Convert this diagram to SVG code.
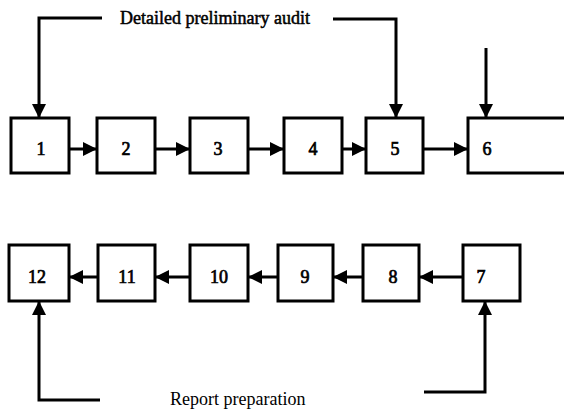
<svg xmlns="http://www.w3.org/2000/svg" width="564" height="411" viewBox="0 0 564 411">
<style>
.box{fill:#fff;stroke:#000;stroke-width:3}
.num{font-family:"Liberation Serif","Times New Roman",serif;font-size:18px;text-anchor:middle;stroke:#000;stroke-width:0.7}
.lbl{font-family:"Liberation Serif","Times New Roman",serif;font-size:18px}
.c{fill:none;stroke:#000;stroke-width:3;marker-end:url(#ah)}
</style>
<defs>
<marker id="ah" markerUnits="userSpaceOnUse" markerWidth="14" markerHeight="14" viewBox="0 0 14 14" refX="14" refY="7" orient="auto">
<path d="M0,0 L14,7 L0,14 z" fill="#000"/>
</marker>
</defs>
<rect width="564" height="411" fill="#fff"/>
<g id="connectors">
<path class="c" d="M102,18 H39 V118"/>
<path class="c" d="M333,19 H396 V118"/>
<path class="c" d="M486,48 V118"/>
<path class="c" d="M69,149 H97"/>
<path class="c" d="M155,149 H190"/>
<path class="c" d="M248,149 H284"/>
<path class="c" d="M342,149 H366"/>
<path class="c" d="M423,149 H468"/>
<path class="c" d="M463,277 H419"/>
<path class="c" d="M363,277 H333"/>
<path class="c" d="M278,277 H248"/>
<path class="c" d="M190,277 H155"/>
<path class="c" d="M98,277 H69"/>
<path class="c" d="M424,392 H485 V301"/>
<path class="c" d="M100,400 H39 V301"/>
</g>
<g id="n1"><rect class="box" x="11" y="118" width="58" height="55"/><text class="num" x="41" y="155">1</text></g>
<g id="n2"><rect class="box" x="97" y="118" width="58" height="55"/><text class="num" x="126" y="155">2</text></g>
<g id="n3"><rect class="box" x="190" y="118" width="58" height="55"/><text class="num" x="218" y="155">3</text></g>
<g id="n4"><rect class="box" x="284" y="118" width="58" height="55"/><text class="num" x="313" y="155">4</text></g>
<g id="n5"><rect class="box" x="366" y="118" width="57" height="55"/><text class="num" x="395" y="155">5</text></g>
<g id="n6"><rect class="box" x="468" y="118" width="100" height="55"/><text class="num" x="487" y="155">6</text></g>
<g id="n7"><rect class="box" x="463" y="245" width="57" height="56"/><text class="num" x="481" y="283">7</text></g>
<g id="n8"><rect class="box" x="363" y="245" width="56" height="56"/><text class="num" x="393" y="283">8</text></g>
<g id="n9"><rect class="box" x="278" y="245" width="55" height="56"/><text class="num" x="305" y="283">9</text></g>
<g id="n10"><rect class="box" x="190" y="245" width="58" height="56"/><text class="num" x="219" y="283">10</text></g>
<g id="n11"><rect class="box" x="98" y="245" width="57" height="56"/><text class="num" x="127" y="283">11</text></g>
<g id="n12"><rect class="box" x="9" y="245" width="60" height="56"/><text class="num" x="37" y="283">12</text></g>
<text class="lbl" x="120" y="24" style="stroke:#000;stroke-width:0.5">Detailed preliminary audit</text>
<text class="lbl" x="170" y="405">Report preparation</text>
</svg>
